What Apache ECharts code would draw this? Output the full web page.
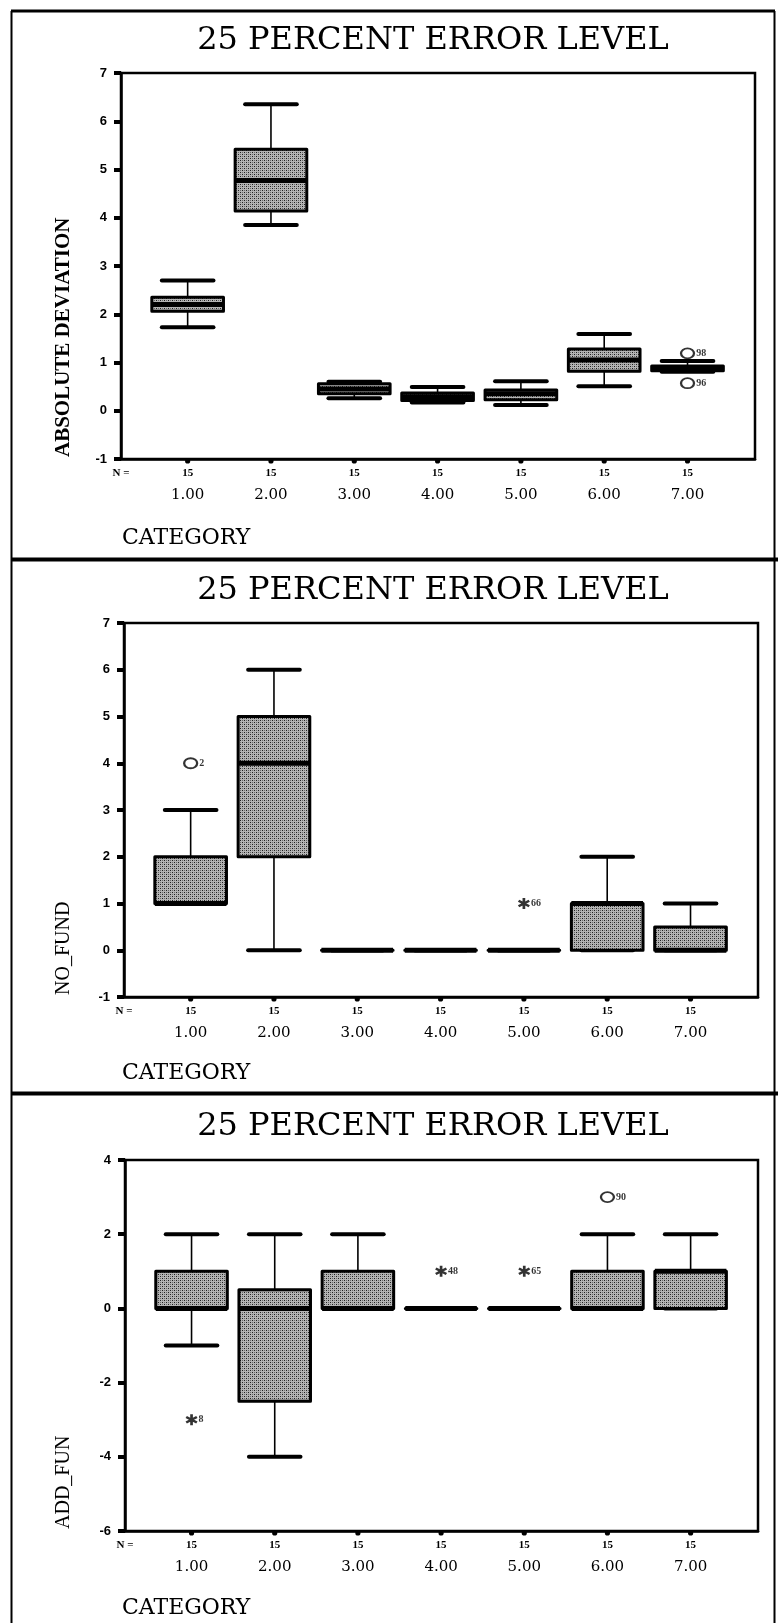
<!DOCTYPE html>
<html>
<head>
<meta charset="utf-8">
<script src="https://cdn.jsdelivr.net/npm/echarts@6/dist/echarts.min.js"></script>
<style>
  html, body { margin: 0; padding: 0; background: #fff; }
  #chart { width: 778px; height: 1623px; }
</style>
</head>
<body>
<div id="chart"></div>
<script>
// ---- data ---------------------------------------------------------------
const categories = ['1.00', '2.00', '3.00', '4.00', '5.00', '6.00', '7.00'];
const groupSizes = [15, 15, 15, 15, 15, 15, 15];
const chartTitle = '25 PERCENT ERROR LEVEL';
const categoryTitle = 'CATEGORY';

// ABSOLUTE DEVIATION: lower whisker, Q1, median, Q3, upper whisker
const absLow = [1.73, 3.85, 0.26, 0.17, 0.12, 0.51, 0.81];
const absQ1  = [2.06, 4.14, 0.35, 0.21, 0.23, 0.82, 0.83];
const absMed = [2.20, 4.77, 0.45, 0.29, 0.35, 1.05, 0.88];
const absQ3  = [2.35, 5.42, 0.56, 0.37, 0.43, 1.28, 0.93];
const absHigh = [2.70, 6.35, 0.60, 0.49, 0.61, 1.59, 1.03];
const absOutCat = [7, 7];
const absOutVal = [1.19, 0.57];
const absOutCase = ['98', '96'];
const absOutKind = ['outlier', 'outlier'];
const absTicks = { min: -1, max: 7, step: 1 };

// NO_FUND
const nfLow = [1, 0, 0, 0, 0, 0, 0];
const nfQ1  = [1, 2, 0, 0, 0, 0, 0];
const nfMed = [1, 4, 0, 0, 0, 1, 0];
const nfQ3  = [2, 5, 0, 0, 0, 1, 0.5];
const nfHigh = [3, 6, 0, 0, 0, 2, 1];
const nfOutCat = [1, 5];
const nfOutVal = [4, 1];
const nfOutCase = ['2', '66'];
const nfOutKind = ['outlier', 'extreme'];
const nfTicks = { min: -1, max: 7, step: 1 };

// ADD_FUN
const afLow = [-1, -4, 0, 0, 0, 0, 0];
const afQ1  = [0, -2.5, 0, 0, 0, 0, 0];
const afMed = [0, 0, 0, 0, 0, 0, 1];
const afQ3  = [1, 0.5, 1, 0, 0, 1, 1];
const afHigh = [2, 2, 2, 0, 0, 2, 2];
const afOutCat = [1, 4, 5, 6];
const afOutVal = [-3, 1, 1, 3];
const afOutCase = ['8', '48', '65', '90'];
const afOutKind = ['extreme', 'extreme', 'extreme', 'outlier'];
const afTicks = { min: -6, max: 4, step: 2 };

// ---- layout -------------------------------------------------------------
const panels = [
  { name: 'ABSOLUTE DEVIATION', bold: true, grid: { left: 121, top: 73, width: 634, height: 386 }, titleY: 41, catY: 538,
    low: absLow, q1: absQ1, med: absMed, q3: absQ3, high: absHigh,
    outCat: absOutCat, outVal: absOutVal, outCase: absOutCase, outKind: absOutKind, ticks: absTicks },
  { name: 'NO_FUND', bold: false, grid: { left: 124, top: 623, width: 634, height: 374 }, titleY: 591, catY: 1073,
    low: nfLow, q1: nfQ1, med: nfMed, q3: nfQ3, high: nfHigh,
    outCat: nfOutCat, outVal: nfOutVal, outCase: nfOutCase, outKind: nfOutKind, ticks: nfTicks },
  { name: 'ADD_FUN', bold: false, grid: { left: 125, top: 1160, width: 633, height: 371 }, titleY: 1127, catY: 1608,
    low: afLow, q1: afQ1, med: afMed, q3: afQ3, high: afHigh,
    outCat: afOutCat, outVal: afOutVal, outCase: afOutCase, outKind: afOutKind, ticks: afTicks }
];

const X_MIN = 0.2, X_MAX = 7.81;
const catPositions = categories.map((c, i) => i + 1);

// stippled box fill
const tile = document.createElement('canvas');
tile.width = 4; tile.height = 4;
(function () {
  const g = tile.getContext('2d');
  g.fillStyle = '#b4b4b4'; g.fillRect(0, 0, 4, 4);
  g.fillStyle = '#202020';
  g.fillRect(0, 0, 1, 1); g.fillRect(2, 2, 1, 1);
  g.fillStyle = '#6a6a6a';
  g.fillRect(2, 0, 1, 1); g.fillRect(0, 2, 1, 1);
})();
const stipple = { image: tile, repeat: 'repeat' };

// six-armed asterisk used for extreme values
const asteriskPath = 'path://M-0.22,-1L0.22,-1L0.22,1L-0.22,1Z' +
  'M0.756,-0.69L0.976,-0.31L-0.756,0.69L-0.976,0.31Z' +
  'M-0.976,-0.31L-0.756,-0.69L0.976,0.31L0.756,0.69Z';

function renderBox(params, api) {
  const x = api.value(0);
  const lo = api.coord([x, api.value(1)]);
  const q1 = api.coord([x, api.value(2)]);
  const md = api.coord([x, api.value(3)]);
  const q3 = api.coord([x, api.value(4)]);
  const hi = api.coord([x, api.value(5)]);
  const boxW = api.size([0.86, 0])[0];
  const capW = api.size([0.62, 0])[0];
  const cx = lo[0];
  const axisBottom = params.coordSys.y + params.coordSys.height;
  const line = (x1, y1, x2, y2, w, cap) => ({
    type: 'line', shape: { x1, y1, x2, y2 },
    style: { stroke: '#000', lineWidth: w, lineCap: cap || 'butt' }
  });
  return {
    type: 'group',
    children: [
      // category tick blob under the axis
      { type: 'circle', shape: { cx: cx, cy: axisBottom + 2, r: 2.6 }, style: { fill: '#000' } },
      line(cx, hi[1], cx, q3[1], 1.6),
      line(cx, q1[1], cx, lo[1], 1.6),
      line(cx - capW / 2, hi[1], cx + capW / 2, hi[1], 4, 'round'),
      line(cx - capW / 2, lo[1], cx + capW / 2, lo[1], 4, 'round'),
      {
        type: 'rect',
        shape: { x: cx - boxW / 2, y: q3[1], width: boxW, height: q1[1] - q3[1] },
        style: { fill: stipple, stroke: '#000', lineWidth: 3, lineJoin: 'round' }
      },
      line(cx - boxW / 2, md[1], cx + boxW / 2, md[1], 5)
    ]
  };
}

const grid = [], xAxis = [], yAxis = [], series = [], graphic = [];

panels.forEach((p, k) => {
  grid.push(Object.assign({ show: true, borderColor: '#000', borderWidth: 2.5, backgroundColor: 'transparent' }, p.grid));

  // category labels
  xAxis.push({
    type: 'value', gridIndex: k, min: X_MIN, max: X_MAX, position: 'bottom',
    axisLine: { show: true, onZero: false, lineStyle: { color: '#000', width: 2.5 } },
    axisTick: { show: false },
    axisLabel: {
      customValues: catPositions, margin: 29,
      formatter: v => categories[Math.round(v) - 1],
      fontFamily: 'DejaVu Serif', fontSize: 15, color: '#000'
    },
    splitLine: { show: false }
  });
  // group sizes row
  xAxis.push({
    type: 'value', gridIndex: k, min: X_MIN, max: X_MAX, position: 'bottom', offset: 0,
    axisLine: { show: false, onZero: false }, axisTick: { show: false }, splitLine: { show: false },
    axisLabel: {
      customValues: [X_MIN].concat(catPositions), margin: 9,
      formatter: v => (v < 0.5 ? 'N =' : String(groupSizes[Math.round(v) - 1])),
      fontFamily: 'Liberation Serif', fontWeight: 'bold', fontSize: 11, color: '#000'
    }
  });

  yAxis.push({
    type: 'value', gridIndex: k, min: p.ticks.min, max: p.ticks.max, interval: p.ticks.step,
    axisLine: { show: true, onZero: false, lineStyle: { color: '#000', width: 2.5 } },
    axisTick: { show: true, length: 7, lineStyle: { color: '#000', width: 4 } },
    axisLabel: { margin: 14, fontFamily: 'Liberation Sans', fontWeight: 'bold', fontSize: 13, color: '#000' },
    splitLine: { show: false }
  });

  series.push({
    type: 'custom', xAxisIndex: 2 * k, yAxisIndex: k,
    renderItem: renderBox,
    clip: false,
    encode: { x: 0, y: [1, 2, 3, 4, 5] },
    data: catPositions.map((c, i) => [c, p.low[i], p.q1[i], p.med[i], p.q3[i], p.high[i]]),
    z: 2
  });

  series.push({
    type: 'scatter', xAxisIndex: 2 * k, yAxisIndex: k,
    data: p.outCat.map((c, i) => ({
      value: [c, p.outVal[i]],
      name: p.outCase[i],
      symbol: p.outKind[i] === 'extreme' ? asteriskPath : 'emptyCircle',
      symbolSize: p.outKind[i] === 'extreme' ? [12, 11] : [13, 10],
      itemStyle: p.outKind[i] === 'extreme'
        ? { color: '#000', borderWidth: 0 }
        : { color: '#000', borderColor: '#000', borderWidth: 2.2 }
    })),
    label: {
      show: true, position: 'right', distance: 1, formatter: '{b}',
      fontFamily: 'Liberation Serif', fontWeight: 'bold', fontSize: 10, color: '#000'
    },
    z: 3
  });

  // panel heading, category caption and the vertical variable name
  graphic.push({
    type: 'text', x: 433, y: p.titleY, z: 10,
    style: { text: chartTitle, fontFamily: 'DejaVu Serif', fontSize: 32, fill: '#000',
             textAlign: 'center', textVerticalAlign: 'middle' }
  });
  graphic.push({
    type: 'text', x: 122, y: p.catY, z: 10,
    style: { text: categoryTitle, fontFamily: 'DejaVu Serif', fontSize: 22, fill: '#000',
             textAlign: 'left', textVerticalAlign: 'middle' }
  });
  graphic.push({
    type: 'text', x: 64, y: p.grid.top + p.grid.height - 2, rotation: Math.PI / 2, z: 10,
    style: { text: p.name, fontFamily: 'Liberation Serif', fontWeight: p.bold ? 'bold' : 'normal',
             fontSize: p.bold ? 21 : 20, fill: '#000', textAlign: 'left', textVerticalAlign: 'middle' }
  });
});

// page frame and panel dividers
graphic.push(
  { type: 'line', z: 5, shape: { x1: 11, y1: 11, x2: 775, y2: 11 }, style: { stroke: '#000', lineWidth: 3 } },
  { type: 'line', z: 5, shape: { x1: 11.5, y1: 11, x2: 11.5, y2: 1623 }, style: { stroke: '#000', lineWidth: 2 } },
  { type: 'line', z: 5, shape: { x1: 774.5, y1: 11, x2: 774.5, y2: 1623 }, style: { stroke: '#000', lineWidth: 2 } },
  { type: 'line', z: 5, shape: { x1: 11, y1: 559.5, x2: 778, y2: 559.5 }, style: { stroke: '#000', lineWidth: 4 } },
  { type: 'line', z: 5, shape: { x1: 11, y1: 1093.5, x2: 778, y2: 1093.5 }, style: { stroke: '#000', lineWidth: 4 } }
);

const chart = echarts.init(document.getElementById('chart'), null, { renderer: 'canvas' });
chart.setOption({
  backgroundColor: '#fff',
  animation: false,
  grid, xAxis, yAxis, series, graphic
});
</script>
</body>
</html>
